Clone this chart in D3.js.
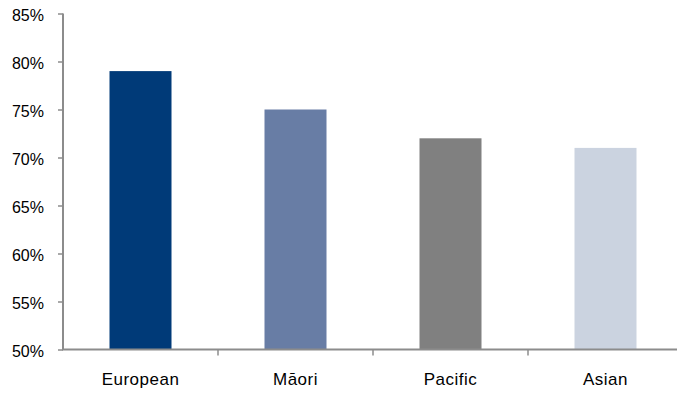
<!DOCTYPE html>
<html>
<head>
<meta charset="utf-8">
<script src="https://cdn.jsdelivr.net/npm/d3@7"></script>
<style>
  body { margin: 0; background: #fff; }
  svg { display: block; font-family: "Liberation Sans", Arial, sans-serif; }
</style>
</head>
<body>
<svg id="chart" width="677" height="394"></svg>
<script>
// data
const categories = ['European', 'M\u0101ori', 'Pacific', 'Asian']
const shares = [0.79, 0.75, 0.72, 0.71]
const barColors = ['#003a78', '#687da5', '#808080', '#cbd3e0']
const yTicks = [0.50, 0.55, 0.60, 0.65, 0.70, 0.75, 0.80, 0.85]

const svg = d3.select('#chart')
const axisColor = '#8c8c8c'

let x = d3.scaleBand()
  .domain(categories)
  .range([63, 683])
  .paddingInner(0)
  .paddingOuter(0)

let y = d3.scaleLinear()
  .domain([0.5, 0.85])
  .range([349.5, 13.5])

const fmt = d3.format('.0%')

// bars
svg.append('g')
  .selectAll('rect')
  .data(categories)
  .join('rect')
    .attr('x', (d) => x(d) + x.bandwidth() * 0.3)
    .attr('width', x.bandwidth() * 0.4)
    .attr('y', (d, i) => y(shares[i]))
    .attr('height', (d, i) => y(0.5) - y(shares[i]))
    .attr('fill', (d, i) => barColors[i])

// y axis
let yAxis = svg.append('g')
  .attr('transform', 'translate(63,0)')
  .call(d3.axisLeft(y).tickValues(yTicks).tickFormat(fmt).tickSize(5).tickPadding(14))
yAxis.select('.domain').attr('stroke', axisColor).attr('stroke-width', 2)
  .attr('d', 'M0,' + y(0.85) + 'V' + y(0.5))
yAxis.selectAll('.tick line').attr('stroke', axisColor).attr('stroke-width', 1.5)
yAxis.selectAll('.tick text')
  .attr('fill', '#000')
  .attr('font-size', 16)
  .attr('dy', '0.42em')
  .attr('font-family', '"Liberation Sans", Arial, sans-serif')

// x axis: line plus ticks at category boundaries
let xg = svg.append('g')
xg.append('line')
  .attr('x1', 62).attr('x2', 683)
  .attr('y1', y(0.5)).attr('y2', y(0.5))
  .attr('stroke', axisColor).attr('stroke-width', 2)
xg.selectAll('line.sep')
  .data(categories.slice(1))
  .join('line')
    .attr('class', 'sep')
    .attr('x1', (d) => x(d)).attr('x2', (d) => x(d))
    .attr('y1', y(0.5)).attr('y2', y(0.5) + 6)
    .attr('stroke', axisColor).attr('stroke-width', 1.5)
xg.selectAll('text')
  .data(categories)
  .join('text')
    .attr('x', (d) => x(d) + x.bandwidth() / 2)
    .attr('y', 385)
    .attr('text-anchor', 'middle')
    .attr('font-size', 17)
    .attr('letter-spacing', 0.5)
    .attr('fill', '#000')
    .text((d) => d)
</script>
</body>
</html>
